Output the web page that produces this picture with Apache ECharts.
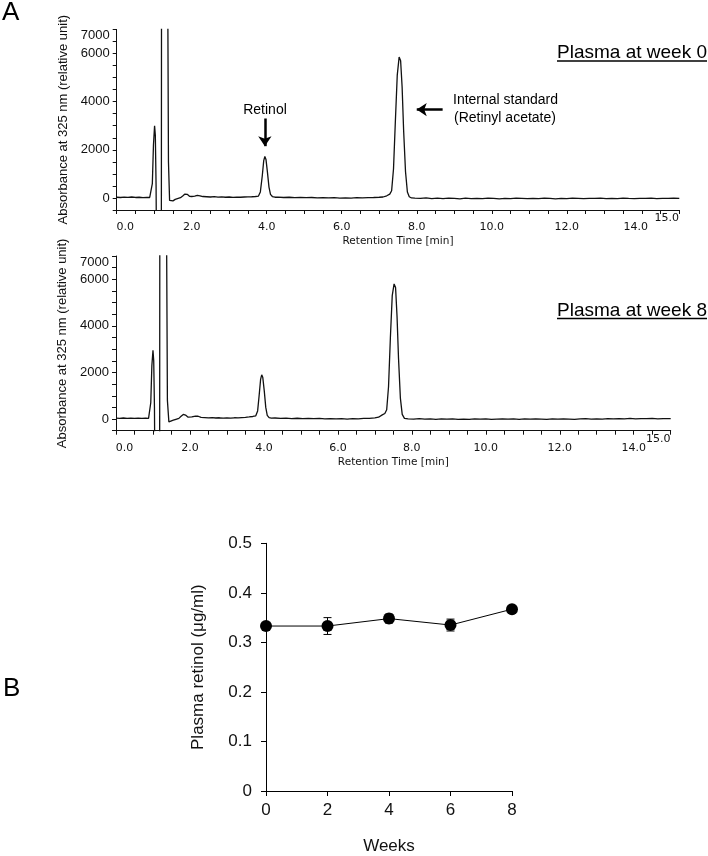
<!DOCTYPE html>
<html>
<head>
<meta charset="utf-8">
<script src="https://cdn.jsdelivr.net/npm/echarts@6/dist/echarts.min.js"></script>
<style>
html,body{margin:0;padding:0;background:#fff;}
#chart{width:708px;height:856px;}
</style>
</head>
<body>
<div id="chart"></div>
<script>
// ---- Chromatogram, plasma at week 0: [retention time (min), absorbance] ----
const week0Trace = [
  [0.00,30],[0.10,20],[0.20,35],[0.30,25],[0.40,40],[0.50,20],[0.60,30],[0.70,15],[0.80,25],[0.88,20],
  [0.92,80],[0.95,600],[0.98,2200],[1.01,3000],[1.03,2600],[1.05,500],[1.065,-3000],[1.19,-3000],
  [1.20,20000],[1.33,20000],[1.38,1500],[1.41,-100],[1.44,-160],[1.50,-120],[1.56,-60],[1.62,-30],
  [1.70,10],[1.76,80],[1.82,160],[1.88,150],[1.94,70],[2.00,60],[2.08,80],[2.15,110],[2.22,90],
  [2.30,60],[2.40,50],[2.50,40],[2.60,55],[2.70,35],[2.80,45],[2.90,30],[3.00,40],[3.10,25],[3.20,35],
  [3.30,30],[3.40,40],[3.50,45],[3.60,50],[3.70,60],[3.78,80],[3.83,250],[3.88,900],[3.92,1550],
  [3.95,1720],[3.98,1600],[4.02,1050],[4.06,450],[4.10,150],[4.15,60],[4.22,30],[4.30,35],[4.45,20],
  [4.60,30],[4.75,15],[4.90,25],[5.05,10],[5.20,20],[5.35,5],[5.50,15],[5.65,0],[5.80,10],[5.95,-5],
  [6.10,5],[6.25,-10],[6.40,10],[6.55,0],[6.70,15],[6.85,20],[7.00,30],[7.10,40],[7.20,90],[7.28,160],
  [7.33,300],[7.38,1200],[7.43,3200],[7.48,5100],[7.53,5850],[7.57,5700],[7.61,4600],[7.65,2800],
  [7.70,1100],[7.75,250],[7.80,50],[7.86,0],[7.95,-10],[8.10,-20],[8.25,0],[8.40,-25],[8.55,-10],
  [8.70,-30],[8.85,-5],[9.00,-20],[9.15,-35],[9.30,-10],[9.45,-25],[9.60,-15],[9.75,-30],[9.90,-10],
  [10.05,-20],[10.20,-35],[10.35,-15],[10.50,-25],[10.65,-10],[10.80,-20],[10.95,-30],[11.10,-15],
  [11.25,-25],[11.40,-10],[11.55,-20],[11.70,-35],[11.85,-15],[12.00,-25],[12.15,-10],[12.30,-20],
  [12.45,-30],[12.60,-15],[12.75,-20],[12.90,-10],[13.05,-25],[13.20,-15],[13.35,-30],[13.50,-10],
  [13.65,-20],[13.80,-25],[13.95,-15],[14.10,-20],[14.25,-10],[14.40,-25],[14.55,-15],[14.70,-20],
  [14.85,-10],[15.00,-15]
];

// ---- Chromatogram, plasma at week 8 ----
const week8Trace = [
  [0.00,40],[0.10,30],[0.20,45],[0.30,30],[0.40,40],[0.50,25],[0.60,40],[0.70,30],[0.80,35],[0.88,30],
  [0.91,100],[0.94,700],[0.97,2300],[1.00,2950],[1.02,2500],[1.04,500],[1.055,-3000],[1.18,-3000],
  [1.19,20000],[1.33,20000],[1.39,800],[1.43,-120],[1.47,-100],[1.55,-50],[1.62,-10],[1.70,30],
  [1.76,120],[1.82,200],[1.88,170],[1.95,80],[2.05,90],[2.15,130],[2.22,120],[2.30,70],[2.40,60],
  [2.50,50],[2.60,65],[2.70,45],[2.80,55],[2.90,40],[3.00,50],[3.10,40],[3.20,55],[3.30,50],[3.40,65],
  [3.50,75],[3.60,90],[3.70,110],[3.78,140],[3.83,350],[3.87,1000],[3.91,1700],[3.94,1900],[3.97,1780],
  [4.01,1200],[4.05,500],[4.09,160],[4.14,60],[4.20,40],[4.30,45],[4.45,30],[4.60,40],[4.75,20],
  [4.90,35],[5.05,20],[5.20,30],[5.35,15],[5.50,25],[5.65,10],[5.80,20],[5.95,5],[6.10,15],[6.25,0],
  [6.40,15],[6.55,10],[6.70,25],[6.85,30],[7.00,50],[7.10,80],[7.20,180],[7.27,240],[7.32,400],
  [7.37,1400],[7.42,3500],[7.47,5300],[7.52,5800],[7.56,5650],[7.60,4400],[7.64,2600],[7.69,900],
  [7.74,200],[7.80,30],[7.90,10],[8.05,0],[8.20,15],[8.35,-5],[8.50,10],[8.65,-10],[8.80,5],[8.95,-5],
  [9.10,10],[9.25,-10],[9.40,0],[9.55,-15],[9.70,5],[9.85,-5],[10.00,10],[10.15,-10],[10.30,0],
  [10.45,10],[10.60,-5],[10.75,5],[10.90,-10],[11.05,5],[11.20,-5],[11.35,10],[11.50,0],[11.65,-10],
  [11.80,5],[11.95,-5],[12.10,10],[12.25,0],[12.40,-10],[12.55,5],[12.70,15],[12.85,0],[13.00,10],
  [13.15,-5],[13.30,15],[13.45,5],[13.60,20],[13.75,10],[13.90,25],[14.05,10],[14.20,20],[14.35,15],
  [14.50,25],[14.65,10],[14.80,20],[15.00,15]
];

// ---- Panel B: plasma retinol over time ----
const weeks = [0, 2, 4, 6, 8];
const retinolMean = [0.333, 0.333, 0.348, 0.335, 0.367];
const retinolSD = [0.003, 0.017, 0.009, 0.012, 0.004];

// tick labels
const chromYLabels = {0:'0', 2000:'2000', 4000:'4000', 6000:'6000'};

const chart = echarts.init(document.getElementById('chart'), null, {renderer:'canvas'});

const ink = '#111111';
const sans = 'Liberation Sans, Arial, sans-serif';
const verd = 'DejaVu Sans, Verdana, sans-serif';

function chromX(gridIndex, shift14) {
  return {
    gridIndex: gridIndex, type: 'value', min: 0, max: 15, interval: 0.5,
    axisLine: {show: true, onZero: false, lineStyle: {color: ink, width: 1}},
    axisTick: {show: true, length: 4, lineStyle: {color: ink, width: 1}},
    splitLine: {show: false},
    axisLabel: {
      margin: 17, verticalAlign: 'middle', fontFamily: verd, fontSize: 11, color: ink,
      formatter: function (v) {
        if (v === 0) return '{l|0.0}';
        if (v === 15) return '{r|15.0}';
        if (v === 14 && shift14) return '{s|14.0}';
        if (v % 2 === 0) return v.toFixed(1);
        return '';
      },
      rich: {
        l: {fontFamily: verd, fontSize: 11, color: ink, padding: [0, 0, 0, 17]},
        r: {fontFamily: verd, fontSize: 11, color: ink, padding: [0, 25, 18, 0]},
        s: {fontFamily: verd, fontSize: 11, color: ink, padding: [0, 12, 0, 0]}
      }
    },
    name: 'Retention Time [min]', nameLocation: 'middle', nameGap: 26,
    nameTextStyle: {fontFamily: verd, fontSize: 10.5, color: ink}
  };
}
function chromY(gridIndex) {
  return {
    gridIndex: gridIndex, type: 'value', min: -500, max: 7000, interval: 500,
    axisLine: {show: true, lineStyle: {color: ink, width: 1}},
    axisTick: {show: true, length: 4, lineStyle: {color: ink, width: 1}},
    splitLine: {show: false},
    axisLabel: {
      margin: 7, fontFamily: sans, fontSize: 13, color: ink,
      formatter: function (v) {
        if (v === 7000) return '{t|7000}';
        return chromYLabels[v] !== undefined ? chromYLabels[v] : '';
      },
      rich: {t: {fontFamily: sans, fontSize: 13, color: ink, padding: [12, 0, 0, 0]}}
    },
    name: 'Absorbance at 325 nm (relative unit)', nameLocation: 'middle', nameGap: 46,
    nameTextStyle: {fontFamily: sans, fontSize: 13, color: ink}
  };
}

const option = {
  backgroundColor: '#ffffff',
  animation: false,
  grid: [
    {left: 116.7, right: 28.7, top: 29.4, height: 180.6},
    {left: 116, right: 37.3, top: 256, height: 174.7},
    {left: 266, right: 196, top: 543.3, bottom: 62.7}
  ],
  xAxis: [
    chromX(0, true),
    chromX(1, false),
    {
      gridIndex: 2, type: 'value', min: 0, max: 8, interval: 2,
      axisLine: {show: true, onZero: false, lineStyle: {color: '#000', width: 1}},
      axisTick: {show: true, length: 5, lineStyle: {color: '#000'}},
      splitLine: {show: false},
      axisLabel: {margin: 11, fontFamily: sans, fontSize: 17, color: '#111'},
      name: 'Weeks', nameLocation: 'middle', nameGap: 47,
      nameTextStyle: {fontFamily: sans, fontSize: 17, color: '#111'}
    }
  ],
  yAxis: [
    chromY(0),
    chromY(1),
    {
      gridIndex: 2, type: 'value', min: 0, max: 0.5, interval: 0.1,
      axisLine: {show: true, lineStyle: {color: '#000', width: 1}},
      axisTick: {show: true, length: 5, lineStyle: {color: '#000'}},
      splitLine: {show: false},
      axisLabel: {
        margin: 14, fontFamily: sans, fontSize: 17, color: '#111',
        formatter: function (v) { return v === 0 ? '0' : v.toFixed(1); }
      },
      name: 'Plasma retinol (μg/ml)', nameLocation: 'middle', nameGap: 59,
      nameTextStyle: {fontFamily: sans, fontSize: 17, color: '#111'}
    }
  ],
  series: [
    {
      type: 'line', xAxisIndex: 0, yAxisIndex: 0, data: week0Trace,
      showSymbol: false, symbol: 'none', clip: true, smooth: false,
      lineStyle: {color: ink, width: 1.3},
      markLine: {
        silent: true, symbol: ['none', 'arrow'], symbolSize: 10,
        label: {show: false},
        lineStyle: {color: '#000', width: 2.5, type: 'solid'},
        data: [
          [{coord: [3.95, 3300]}, {coord: [3.95, 2150]}],
          [{coord: [8.69, 3670]}, {coord: [8.0, 3670]}]
        ]
      }
    },
    {
      type: 'line', xAxisIndex: 1, yAxisIndex: 1, data: week8Trace,
      showSymbol: false, symbol: 'none', clip: true, smooth: false,
      lineStyle: {color: ink, width: 1.3}
    },
    {
      type: 'custom', xAxisIndex: 2, yAxisIndex: 2, z: 1,
      data: weeks.map(function (w, i) { return [w, retinolMean[i], retinolSD[i]]; }),
      renderItem: function (params, api) {
        const x = api.value(0), m = api.value(1), e = api.value(2);
        const hi = api.coord([x, m + e]);
        const lo = api.coord([x, m - e]);
        const hw = 4;
        const st = {stroke: '#000', lineWidth: 1};
        return {
          type: 'group',
          children: [
            {type: 'line', shape: {x1: hi[0], y1: hi[1], x2: lo[0], y2: lo[1]}, style: st},
            {type: 'line', shape: {x1: hi[0] - hw, y1: hi[1], x2: hi[0] + hw, y2: hi[1]}, style: st},
            {type: 'line', shape: {x1: lo[0] - hw, y1: lo[1], x2: lo[0] + hw, y2: lo[1]}, style: st}
          ]
        };
      }
    },
    {
      type: 'line', xAxisIndex: 2, yAxisIndex: 2, z: 3,
      data: weeks.map(function (w, i) { return [w, retinolMean[i]]; }),
      symbol: 'circle', symbolSize: 12, showSymbol: true,
      itemStyle: {color: '#000'},
      lineStyle: {color: '#000', width: 1}
    }
  ],
  graphic: [
    {type: 'text', left: 2, top: 0, style: {text: 'A', font: '26px Liberation Sans, Arial, sans-serif', fill: '#000'}},
    {type: 'text', left: 3, top: 676, style: {text: 'B', font: '26px Liberation Sans, Arial, sans-serif', fill: '#000'}},
    {type: 'text', x: 265, y: 110, style: {text: 'Retinol', font: '14px Liberation Sans, Arial, sans-serif', fill: '#000', align: 'center', verticalAlign: 'middle'}},
    {type: 'text', x: 453, y: 100, style: {text: 'Internal standard', font: '14px Liberation Sans, Arial, sans-serif', fill: '#000', align: 'left', verticalAlign: 'middle'}},
    {type: 'text', x: 454, y: 118, style: {text: '(Retinyl acetate)', font: '14px Liberation Sans, Arial, sans-serif', fill: '#000', align: 'left', verticalAlign: 'middle'}},
    {type: 'text', x: 707, y: 53, style: {text: 'Plasma at week 0', font: '19px Liberation Sans, Arial, sans-serif', fill: '#000', align: 'right', verticalAlign: 'middle'}},
    {type: 'line', shape: {x1: 557, y1: 61, x2: 707, y2: 61}, style: {stroke: '#000', lineWidth: 1.3}},
    {type: 'text', x: 707, y: 310.5, style: {text: 'Plasma at week 8', font: '19px Liberation Sans, Arial, sans-serif', fill: '#000', align: 'right', verticalAlign: 'middle'}},
    {type: 'line', shape: {x1: 557, y1: 318.5, x2: 707, y2: 318.5}, style: {stroke: '#000', lineWidth: 1.3}}
  ]
};

chart.setOption(option);
</script>
</body>
</html>
